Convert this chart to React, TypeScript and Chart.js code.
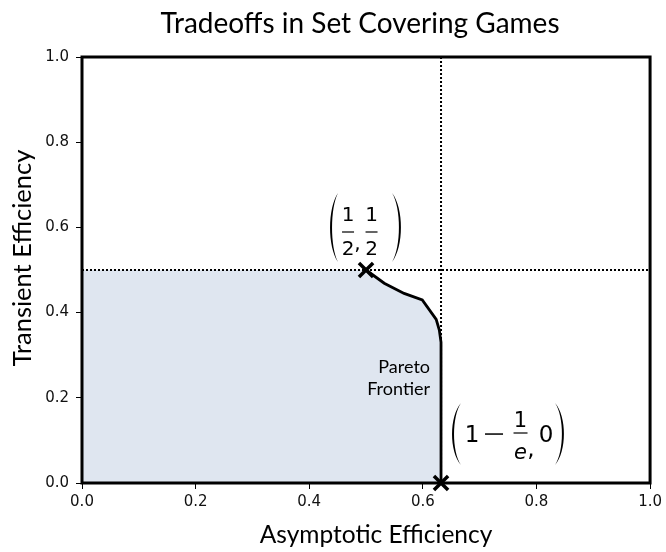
import React, { useEffect, useRef } from "react";
import { Chart, registerables } from "chart.js";

Chart.register(...registerables);

// ---- data ----
const frontierX = [0.5, 0.532, 0.567, 0.599, 0.6235, 0.629, 0.632, 0.632];
const frontierY = [0.5, 0.469, 0.445, 0.43, 0.384, 0.359, 0.33, 0.0];
const regionX = [0.0, 0.5, 0.532, 0.567, 0.599, 0.6235, 0.629, 0.632, 0.632];
const regionY = [0.5, 0.5, 0.469, 0.445, 0.43, 0.384, 0.359, 0.33, 0.0];
const markerX = [0.5, 0.632];
const markerY = [0.5, 0.0];
const hLineX = [0.0, 1.0];
const hLineY = [0.5, 0.5];
const vLineX = [0.632, 0.632];
const vLineY = [0.0, 1.0];
const ticks = [0.0, 0.2, 0.4, 0.6, 0.8, 1.0];

const TITLE = "Tradeoffs in Set Covering Games";
const X_LABEL = "Asymptotic Efficiency";
const Y_LABEL = "Transient Efficiency";
const FRONTIER_LABEL = ["Pareto", "Frontier"];

const SANS = "Lato, 'DejaVu Sans', sans-serif";
const TICKFONT = "'DejaVu Sans', sans-serif";
const MATH = "'DejaVu Sans', sans-serif";

const zip = (xs: number[], ys: number[]) => xs.map((x, i) => ({ x, y: ys[i] }));

function paren(ctx: CanvasRenderingContext2D, x0: number, x1: number, top: number, bottom: number, left: boolean) {
  const h = bottom - top;
  const w = Math.abs(x1 - x0);
  const th = 2.0;
  const dir = left ? -1 : 1;
  const tipX = left ? x1 : x0;
  ctx.beginPath();
  ctx.moveTo(tipX, top);
  ctx.bezierCurveTo(tipX + dir * w * 1.33, top + h * 0.22, tipX + dir * w * 1.33, bottom - h * 0.22, tipX, bottom);
  ctx.bezierCurveTo(tipX + dir * (w - th) * 1.33, bottom - h * 0.22, tipX + dir * (w - th) * 1.33, top + h * 0.22, tipX, top);
  ctx.closePath();
  ctx.fill();
}

function frac(ctx: CanvasRenderingContext2D, cx: number, barY: number, num: string, den: string, font: string, barW: number, gapN: number, gapD: number, denItalic?: boolean) {
  ctx.font = font;
  ctx.textAlign = "center";
  ctx.textBaseline = "alphabetic";
  ctx.fillText(num, cx, barY - gapN);
  if (denItalic) ctx.font = "italic " + font;
  ctx.fillText(den, cx, barY + gapD);
  ctx.fillRect(cx - barW / 2, barY - 0.6, barW, 1.2);
}

const annotPlugin = {
  id: "annot",
  afterDatasetsDraw(chart: any) {
    const ctx: CanvasRenderingContext2D = chart.ctx;
    const xs = chart.scales.x;
    const ys = chart.scales.y;
    ctx.save();
    ctx.fillStyle = "#000";
    // (1/2, 1/2) anchored at point (0.5, 0.5)
    {
      const px = xs.getPixelForValue(0.5);
      const py = ys.getPixelForValue(0.5);
      const bar = py - 38;
      paren(ctx, px - 36, px - 28, py - 77, py - 8, true);
      const f = "20px " + MATH;
      frac(ctx, px - 18, bar, "1", "2", f, 12, 11, 23);
      ctx.font = f;
      ctx.textAlign = "center";
      ctx.fillText(",", px - 8.5, bar + 18);
      frac(ctx, px + 5.5, bar, "1", "2", f, 12, 11, 23);
      paren(ctx, px + 26, px + 35, py - 77, py - 8, false);
    }
    // (1 - 1/e, 0) anchored at point (0.632, 0)
    {
      const px = xs.getPixelForValue(0.632);
      const py = ys.getPixelForValue(0.0);
      const bar = py - 50;
      paren(ctx, px + 11, px + 20, py - 80, py - 18, true);
      const big = "23px " + MATH;
      ctx.font = big;
      ctx.textAlign = "center";
      ctx.textBaseline = "alphabetic";
      ctx.fillText("1", px + 31, bar + 9);
      ctx.fillRect(px + 44, bar + 0.3, 18, 1.5);
      frac(ctx, px + 79.5, bar, "1", "e", "21px " + MATH, 14, 6, 26, true);
      ctx.font = big;
      ctx.textAlign = "center";
      ctx.fillText(",", px + 90, bar + 23);
      ctx.fillText("0", px + 105, bar + 9);
      paren(ctx, px + 114, px + 123, py - 80, py - 18, false);
    }
    // Pareto Frontier label
    {
      const px = xs.getPixelForValue(0.632);
      const py = ys.getPixelForValue(0.0);
      ctx.font = "18px " + SANS;
      ctx.textAlign = "right";
      ctx.textBaseline = "middle";
      ctx.fillText(FRONTIER_LABEL[0], px - 11, py - 116);
      ctx.fillText(FRONTIER_LABEL[1], px - 11, py - 94);
    }
    ctx.restore();
  },
  afterDraw(chart: any) {
    const ctx: CanvasRenderingContext2D = chart.ctx;
    const a = chart.chartArea;
    ctx.save();
    ctx.strokeStyle = "#000";
    ctx.lineWidth = 3;
    ctx.strokeRect(a.left, a.top, a.right - a.left, a.bottom - a.top);
    ctx.fillStyle = "#000";
    // title
    ctx.font = "28px " + SANS;
    ctx.textAlign = "center";
    ctx.textBaseline = "alphabetic";
    ctx.fillText(TITLE, 360, 33);
    // x axis label
    ctx.textBaseline = "middle";
    ctx.font = "24.5px " + SANS;
    ctx.fillText(X_LABEL, 376, 535);
    // y axis label
    ctx.save();
    ctx.translate(23, 258);
    ctx.rotate(-Math.PI / 2);
    ctx.font = "25.5px " + SANS;
    ctx.fillText(Y_LABEL, 0, 0);
    ctx.restore();
    ctx.restore();
  },
};

export default function App() {
  const ref = useRef<HTMLCanvasElement | null>(null);
  useEffect(() => {
    if (!ref.current) return;
    const chart = new Chart(ref.current, {
      type: "scatter",
      data: {
        datasets: [
          {
            data: zip(markerX, markerY),
            showLine: false,
            pointStyle: "crossRot",
            pointRadius: 10,
            pointBorderWidth: 3.5,
            borderColor: "#000",
            backgroundColor: "#000",
            clip: false as any,
            order: 0,
          },
          {
            data: zip(frontierX, frontierY),
            showLine: true,
            borderColor: "#000",
            borderWidth: 2.8,
            pointRadius: 0,
            fill: false,
            order: 1,
          },
          {
            data: zip(hLineX, hLineY),
            showLine: true,
            borderColor: "#000",
            borderWidth: 2,
            borderDash: [2, 2],
            pointRadius: 0,
            fill: false,
            order: 2,
          },
          {
            data: zip(vLineX, vLineY),
            showLine: true,
            borderColor: "#000",
            borderWidth: 2,
            borderDash: [2, 2],
            pointRadius: 0,
            fill: false,
            order: 3,
          },
          {
            data: zip(regionX, regionY),
            showLine: true,
            borderWidth: 0,
            borderColor: "rgba(0,0,0,0)",
            backgroundColor: "rgb(223,230,240)",
            pointRadius: 0,
            fill: "origin",
            order: 4,
          },
        ],
      },
      options: {
        animation: false,
        responsive: false,
        devicePixelRatio: 1,
        layout: { padding: { top: 57, right: 11, left: 0, bottom: 0 } },
        plugins: { legend: { display: false }, tooltip: { enabled: false }, title: { display: false } },
        scales: {
          x: {
            type: "linear",
            min: 0,
            max: 1,
            afterFit: (s: any) => { s.height = 69; },
            afterBuildTicks: (s: any) => { s.ticks = ticks.map((v) => ({ value: v })); },
            border: { display: false },
            grid: { drawOnChartArea: false, drawTicks: true, tickLength: 6, color: "#000", lineWidth: 1 },
            ticks: { color: "#111", font: { family: TICKFONT, size: 15 }, padding: 4, callback: (v: any) => Number(v).toFixed(1), maxRotation: 0 },
            title: { display: false },
          },
          y: {
            type: "linear",
            min: 0,
            max: 1,
            afterFit: (s: any) => { s.width = 82; },
            afterBuildTicks: (s: any) => { s.ticks = ticks.map((v) => ({ value: v })); },
            border: { display: false },
            grid: { drawOnChartArea: false, drawTicks: true, tickLength: 6, color: "#000", lineWidth: 1 },
            ticks: { color: "#111", font: { family: TICKFONT, size: 15 }, padding: 7, callback: (v: any) => Number(v).toFixed(1) },
            title: { display: false },
          },
        },
      },
      plugins: [annotPlugin],
    });
    return () => chart.destroy();
  }, []);
  return (
    <div style={{ position: "absolute", left: 0, top: 0, width: 666, height: 552, background: "#fff" }}>
      <canvas ref={ref} width={666} height={552} style={{ width: 666, height: 552, display: "block" }} />
    </div>
  );
}
